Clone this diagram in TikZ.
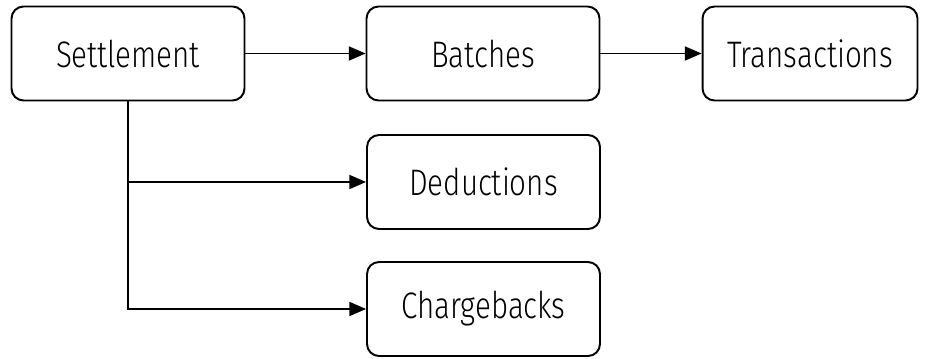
\documentclass[tikz,border=0pt]{standalone}
\usepackage{fontspec}
\setmainfont{Fira Sans Light}[FakeStretch=0.8]
\usetikzlibrary{arrows.meta,positioning}
\tikzset{
    box/.style={draw, rounded corners=0.24cm, line width=1.1pt, minimum width=4.66cm, minimum height=1.88cm, font=\fontsize{21}{25}\selectfont},
    link/.style={line width=0.85pt, -{Triangle[length=9.5pt,width=8pt]}}
}
\begin{document}
\begin{tikzpicture}[x=0.02cm, y=-0.02cm]
        \useasboundingbox (0,0) rectangle (925,358);
        \node[box] (settle) at (128,53.5) {Settlement};
        \node[box] (batch) at (483,53.5) {Batches};
        \node[box, minimum width=4.3cm] (trans) at (810,53.5) {Transactions};
        \node[box] (deduct) at (483.5,182) {Deductions};
        \node[box] (charge) at (483.5,309) {Chargebacks};
        % connectors
        \draw[link] (settle) -- (batch);
        \draw[link] (batch) -- (trans);
        \draw[link] (settle.south) |- (charge.west);
        \draw[link] (settle.south |- deduct.west) -- (deduct.west);
\end{tikzpicture}
\end{document}
